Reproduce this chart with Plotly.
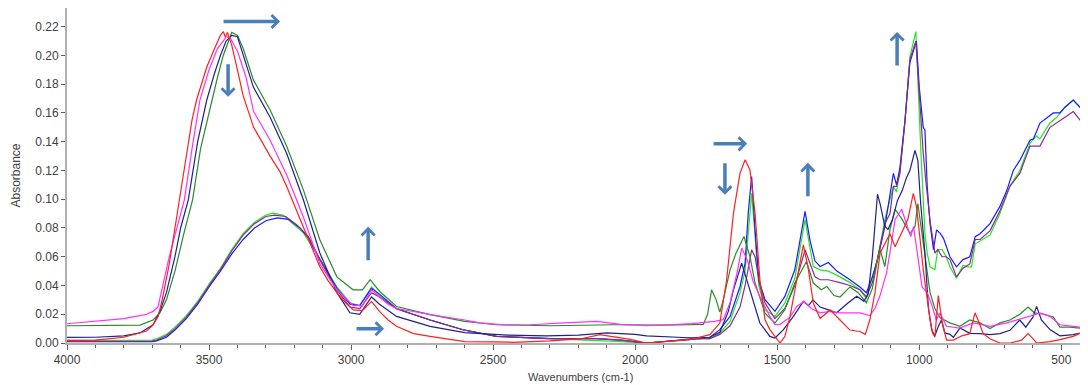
import plotly.graph_objects as go

# ---------------- data ----------------
red_wn = [4000, 3900, 3800, 3750, 3720, 3700, 3680, 3665, 3640, 3620, 3605, 3580, 3560, 3544, 3520, 3508, 3480, 3460, 3450, 3443, 3435, 3420, 3400, 3380, 3343, 3300, 3285, 3250, 3227, 3200, 3168, 3140, 3110, 3080, 3050, 3020, 2992, 2960, 2928, 2900, 2870, 2840, 2780, 2722, 2650, 2600, 2500, 2430, 2300, 2194, 2124, 2060, 2018, 1960, 1900, 1807, 1737, 1702, 1678, 1654, 1631, 1613, 1596, 1578, 1561, 1543, 1526, 1502, 1490, 1473, 1455, 1431, 1408, 1390, 1373, 1349, 1314, 1279, 1244, 1209, 1190, 1174, 1156, 1138, 1103, 1085, 1068, 1040, 1021, 1010, 998, 986, 975, 962, 953, 945, 933, 920, 904, 880, 850, 822, 804, 793, 775, 751, 716, 680, 640, 617, 600, 587, 540, 505, 458, 406]
red_abs = [0.0018, 0.002, 0.004, 0.007, 0.0083, 0.012, 0.018, 0.030, 0.055, 0.080, 0.0996, 0.130, 0.155, 0.169, 0.185, 0.192, 0.205, 0.214, 0.2166, 0.213, 0.216, 0.207, 0.190, 0.172, 0.150, 0.135, 0.130, 0.119, 0.109, 0.096, 0.081, 0.067, 0.053, 0.043, 0.035, 0.028, 0.023, 0.0225, 0.029, 0.022, 0.016, 0.0116, 0.0065, 0.0046, 0.0025, 0.001, 0.0008, 0.0005, 0.0015, 0.0028, 0.0058, 0.004, 0.0025, 0.0, 0.001, 0.0023, 0.0058, 0.0139, 0.044, 0.0903, 0.118, 0.1274, 0.1204, 0.0903, 0.044, 0.0162, 0.0093, 0.0035, 0.0, 0.0046, 0.0185, 0.044, 0.0683, 0.0509, 0.0278, 0.017, 0.023, 0.016, 0.009, 0.008, 0.006, 0.016, 0.035, 0.0625, 0.076, 0.067, 0.074, 0.086, 0.104, 0.095, 0.074, 0.051, 0.035, 0.016, 0.007, 0.004, 0.033, 0.015, 0.002, 0.002, 0.005, 0.0065, 0.021, 0.016, 0.0065, 0.003, 0.0, 0.0, 0.002, 0.0065, 0.003, 0.0, 0.001, 0.0023, 0.0046, 0.0093]

magenta_wn = [4000, 3900, 3800, 3743, 3720, 3697, 3680, 3665, 3640, 3620, 3587, 3560, 3532, 3500, 3470, 3450, 3440, 3425, 3400, 3370, 3343, 3285, 3227, 3168, 3110, 3050, 2992, 2960, 2928, 2900, 2870, 2840, 2786, 2700, 2600, 2546, 2450, 2370, 2250, 2135, 2050, 1960, 1850, 1800, 1720, 1690, 1666, 1640, 1625, 1605, 1585, 1561, 1526, 1508, 1490, 1455, 1431, 1405, 1380, 1349, 1314, 1279, 1244, 1209, 1174, 1156, 1138, 1115, 1100, 1085, 1062, 1045, 1030, 1020, 1005, 990, 972, 955, 940, 927, 904, 857, 810, 751, 692, 634, 575, 540, 505, 458, 406]
magenta_abs = [0.0134, 0.015, 0.017, 0.019, 0.020, 0.022, 0.025, 0.038, 0.060, 0.075, 0.0996, 0.135, 0.169, 0.190, 0.205, 0.210, 0.213, 0.212, 0.203, 0.185, 0.161, 0.141, 0.117, 0.0876, 0.055, 0.037, 0.026, 0.026, 0.037, 0.032, 0.027, 0.024, 0.022, 0.019, 0.016, 0.014, 0.0125, 0.0127, 0.014, 0.015, 0.013, 0.012, 0.013, 0.0135, 0.015, 0.0162, 0.028, 0.050, 0.066, 0.0575, 0.043, 0.0324, 0.0185, 0.0127, 0.013, 0.018, 0.0254, 0.029, 0.024, 0.021, 0.022, 0.021, 0.021, 0.021, 0.019, 0.024, 0.033, 0.049, 0.067, 0.086, 0.093, 0.083, 0.074, 0.081, 0.058, 0.039, 0.035, 0.026, 0.016, 0.0208, 0.0116, 0.0104, 0.014, 0.0116, 0.014, 0.0174, 0.0208, 0.0185, 0.0127, 0.0116, 0.0104]

dkgreen_wn = [4000, 3900, 3800, 3743, 3697, 3673, 3650, 3620, 3590, 3558, 3530, 3491, 3470, 3450, 3430, 3420, 3400, 3380, 3344, 3285, 3227, 3168, 3110, 3050, 2993, 2960, 2933, 2900, 2840, 2722, 2600, 2488, 2300, 2078, 1900, 1784, 1760, 1745, 1731, 1715, 1702, 1690, 1666, 1645, 1617, 1596, 1578, 1543, 1508, 1473, 1438, 1397, 1373, 1345, 1325, 1300, 1279, 1244, 1215, 1186, 1165, 1147, 1138, 1121, 1103, 1085, 1068, 1060, 1033, 1015, 1005, 990, 975, 962, 945, 927, 892, 857, 822, 786, 751, 716, 681, 646, 617, 595, 560, 528, 505, 470, 434, 406]
dkgreen_abs = [0.012, 0.012, 0.0125, 0.0125, 0.016, 0.021, 0.030, 0.050, 0.075, 0.0996, 0.135, 0.169, 0.185, 0.200, 0.211, 0.216, 0.214, 0.205, 0.183, 0.162, 0.137, 0.1065, 0.0718, 0.046, 0.037, 0.037, 0.044, 0.036, 0.0254, 0.0197, 0.015, 0.0127, 0.012, 0.0127, 0.0125, 0.0127, 0.013, 0.020, 0.037, 0.030, 0.0215, 0.030, 0.0509, 0.0625, 0.0741, 0.0602, 0.0417, 0.0208, 0.0139, 0.0231, 0.0417, 0.0567, 0.0417, 0.037, 0.0393, 0.033, 0.032, 0.039, 0.035, 0.028, 0.038, 0.058, 0.065, 0.0532, 0.079, 0.093, 0.088, 0.086, 0.076, 0.081, 0.097, 0.074, 0.051, 0.035, 0.024, 0.0175, 0.014, 0.0116, 0.016, 0.014, 0.010, 0.014, 0.016, 0.020, 0.025, 0.021, 0.020, 0.018, 0.011, 0.011, 0.0104, 0.0093]

navy_wn = [4000, 3900, 3800, 3743, 3697, 3673, 3650, 3620, 3600, 3573, 3540, 3508, 3480, 3460, 3440, 3420, 3400, 3380, 3344, 3285, 3227, 3168, 3110, 3050, 3004, 2970, 2928, 2900, 2840, 2722, 2600, 2450, 2312, 2200, 2100, 2000, 1960, 1850, 1807, 1737, 1702, 1672, 1654, 1625, 1596, 1561, 1526, 1508, 1478, 1443, 1408, 1390, 1374, 1349, 1320, 1291, 1250, 1220, 1195, 1180, 1165, 1156, 1147, 1138, 1121, 1110, 1094, 1077, 1060, 1045, 1033, 1015, 1005, 995, 980, 968, 956, 945, 934, 922, 910, 892, 880, 857, 822, 786, 751, 716, 681, 646, 625, 600, 587, 570, 540, 505, 458, 406]
navy_abs = [0.0039, 0.004, 0.005, 0.007, 0.0127, 0.022, 0.035, 0.060, 0.080, 0.0996, 0.140, 0.169, 0.188, 0.200, 0.210, 0.214, 0.213, 0.200, 0.178, 0.157, 0.132, 0.0996, 0.0626, 0.035, 0.021, 0.020, 0.032, 0.027, 0.0185, 0.0116, 0.0072, 0.0055, 0.0049, 0.0055, 0.007, 0.006, 0.0049, 0.004, 0.0035, 0.004, 0.0075, 0.022, 0.037, 0.0556, 0.037, 0.0139, 0.0046, 0.0035, 0.0093, 0.0185, 0.029, 0.026, 0.030, 0.025, 0.023, 0.021, 0.028, 0.0325, 0.029, 0.034, 0.060, 0.081, 0.1035, 0.097, 0.081, 0.079, 0.086, 0.099, 0.106, 0.115, 0.120, 0.134, 0.127, 0.097, 0.0625, 0.025, 0.009, 0.005, 0.011, 0.016, 0.007, 0.006, 0.004, 0.0104, 0.0067, 0.0065, 0.0058, 0.0065, 0.0088, 0.016, 0.011, 0.018, 0.0255, 0.016, 0.0093, 0.005, 0.0058, 0.0081]

blue_wn = [4000, 3800, 3700, 3684, 3650, 3620, 3580, 3540, 3500, 3460, 3420, 3380, 3340, 3300, 3260, 3220, 3180, 3150, 3110, 3050, 3004, 2970, 2928, 2900, 2840, 2722, 2606, 2488, 2300, 2136, 2050, 1960, 1850, 1784, 1740, 1702, 1666, 1631, 1613, 1602, 1590, 1578, 1565, 1543, 1508, 1473, 1438, 1402, 1385, 1367, 1349, 1320, 1290, 1244, 1209, 1186, 1165, 1147, 1121, 1091, 1080, 1068, 1050, 1033, 1010, 1000, 986, 980, 972, 962, 950, 939, 927, 915, 892, 869, 846, 822, 803, 786, 751, 716, 692, 669, 646, 610, 598, 575, 528, 505, 487, 458, 434, 416, 406]
blue_abs = [0.0009, 0.0009, 0.001, 0.0015, 0.004, 0.009, 0.017, 0.027, 0.039, 0.050, 0.062, 0.072, 0.080, 0.085, 0.087, 0.086, 0.080, 0.073, 0.058, 0.038, 0.027, 0.026, 0.038, 0.034, 0.0238, 0.016, 0.0092, 0.0046, 0.003, 0.003, 0.002, 0.0, 0.002, 0.003, 0.0035, 0.0093, 0.0185, 0.0393, 0.0556, 0.0903, 0.1158, 0.0787, 0.044, 0.0301, 0.022, 0.0324, 0.0509, 0.0915, 0.0718, 0.057, 0.0532, 0.056, 0.050, 0.044, 0.039, 0.035, 0.046, 0.058, 0.081, 0.118, 0.110, 0.122, 0.155, 0.195, 0.210, 0.178, 0.150, 0.148, 0.109, 0.083, 0.065, 0.0787, 0.0764, 0.073, 0.060, 0.053, 0.058, 0.060, 0.074, 0.076, 0.083, 0.095, 0.106, 0.120, 0.127, 0.141, 0.142, 0.153, 0.160, 0.160, 0.164, 0.169, 0.164, 0.160, 0.162]

lime_wn = [4000, 3800, 3700, 3684, 3650, 3620, 3580, 3540, 3500, 3460, 3420, 3380, 3340, 3300, 3275, 3240, 3200, 3168, 3108, 3050, 3004, 2969, 2928, 2900, 2840, 2722, 2606, 2488, 2300, 2136, 2050, 1960, 1850, 1784, 1737, 1702, 1666, 1631, 1613, 1600, 1590, 1578, 1565, 1543, 1508, 1473, 1438, 1402, 1373, 1349, 1320, 1279, 1244, 1209, 1186, 1165, 1147, 1121, 1091, 1080, 1068, 1050, 1033, 1012, 1000, 994, 980, 972, 962, 945, 935, 920, 905, 892, 869, 846, 830, 816, 803, 786, 751, 716, 681, 646, 610, 587, 575, 540, 516, 487, 458, 434, 406]
lime_abs = [0.0018, 0.0018, 0.002, 0.003, 0.006, 0.011, 0.019, 0.029, 0.041, 0.052, 0.065, 0.076, 0.084, 0.089, 0.0903, 0.089, 0.082, 0.0766, 0.058, 0.039, 0.028, 0.026, 0.039, 0.033, 0.024, 0.016, 0.0092, 0.0046, 0.003, 0.002, 0.001, 0.0, 0.002, 0.003, 0.003, 0.007, 0.015, 0.035, 0.050, 0.080, 0.1042, 0.0741, 0.040, 0.0231, 0.0185, 0.0278, 0.045, 0.0857, 0.0532, 0.0509, 0.050, 0.046, 0.042, 0.037, 0.031, 0.046, 0.058, 0.086, 0.109, 0.105, 0.120, 0.155, 0.199, 0.2166, 0.155, 0.132, 0.076, 0.0625, 0.053, 0.051, 0.065, 0.065, 0.060, 0.053, 0.045, 0.054, 0.053, 0.053, 0.069, 0.071, 0.075, 0.090, 0.109, 0.120, 0.139, 0.144, 0.142, 0.153, 0.157, 0.164, 0.169, 0.164, 0.162]

purple_wn = [4000, 3800, 3700, 3684, 3650, 3620, 3580, 3540, 3500, 3460, 3420, 3380, 3340, 3300, 3270, 3230, 3190, 3150, 3110, 3050, 3004, 2969, 2928, 2900, 2840, 2722, 2606, 2488, 2300, 2136, 2050, 1960, 1850, 1784, 1737, 1702, 1666, 1631, 1613, 1590, 1578, 1561, 1543, 1508, 1473, 1438, 1402, 1385, 1367, 1349, 1320, 1279, 1244, 1209, 1186, 1165, 1147, 1121, 1103, 1091, 1080, 1068, 1050, 1033, 1012, 998, 986, 975, 962, 945, 935, 920, 905, 892, 869, 846, 822, 803, 786, 751, 716, 681, 646, 610, 575, 540, 516, 487, 458, 434, 406]
purple_abs = [0.0011, 0.0011, 0.0013, 0.002, 0.005, 0.010, 0.018, 0.028, 0.040, 0.051, 0.064, 0.075, 0.083, 0.088, 0.089, 0.088, 0.082, 0.074, 0.058, 0.037, 0.025, 0.024, 0.035, 0.032, 0.0238, 0.016, 0.0092, 0.0046, 0.003, 0.003, 0.002, 0.0, 0.002, 0.003, 0.003, 0.006, 0.012, 0.025, 0.040, 0.0648, 0.060, 0.040, 0.028, 0.017, 0.024, 0.040, 0.0648, 0.055, 0.046, 0.044, 0.044, 0.042, 0.040, 0.037, 0.032, 0.042, 0.058, 0.083, 0.090, 0.109, 0.109, 0.118, 0.155, 0.197, 0.210, 0.167, 0.132, 0.109, 0.085, 0.0625, 0.065, 0.060, 0.060, 0.058, 0.046, 0.052, 0.055, 0.072, 0.072, 0.078, 0.092, 0.109, 0.118, 0.137, 0.137, 0.150, 0.153, 0.157, 0.161, 0.155, 0.151]

# arrows: (tip wavenumber, tip absorbance, tail dx px, tail dy px)
arrow_wn = [3250, 3433, 2940, 2884, 1606, 1684, 1392, 1078]
arrow_abs = [0.2236, 0.1712, 0.0808, 0.0099, 0.1385, 0.1031, 0.1253, 0.2163]
arrow_ax = [-58, 0, 0, -29, -35, 0, 0, 0]
arrow_ay = [0, -34, 35, 0, 0, -33, 35, 35]

y_ticks = [0.00, 0.02, 0.04, 0.06, 0.08, 0.10, 0.12, 0.14, 0.16, 0.18, 0.20, 0.22]
x_ticks = [4000, 3500, 3000, 2500, 2000, 1500, 1000, 500]

series = [
    ("lime", lime_wn, lime_abs, "#22e622"),
    ("blue", blue_wn, blue_abs, "#1a1aff"),
    ("purple", purple_wn, purple_abs, "#8a2a8a"),
    ("dkgreen", dkgreen_wn, dkgreen_abs, "#2a8a2a"),
    ("navy", navy_wn, navy_abs, "#20208a"),
    ("magenta", magenta_wn, magenta_abs, "#ff30ff"),
    ("red", red_wn, red_abs, "#ff2020"),
]

fig = go.Figure()
for name, wn, ab, col in series:
    fig.add_trace(go.Scatter(x=wn, y=ab, mode="lines", name=name,
                             line=dict(color=col, width=1.2), showlegend=False))

arrow_col = "#4a7ebb"
for xw, ya, axp, ayp in zip(arrow_wn, arrow_abs, arrow_ax, arrow_ay):
    fig.add_annotation(x=xw, y=ya, xref="x", yref="y", ax=axp, ay=ayp,
                       text="", showarrow=True, arrowhead=4, arrowsize=0.72,
                       arrowwidth=3.5, arrowcolor=arrow_col, standoff=0)

font_col = "#404040"
fig.add_annotation(text="Absorbance", xref="paper", yref="paper", x=0, y=0.5,
                   xshift=-61, textangle=-90, showarrow=False,
                   font=dict(family="Liberation Sans, Arial", size=12, color=font_col))
fig.add_annotation(text="Wavenumbers (cm-1)", xref="paper", yref="paper", x=0.503, y=0,
                   yshift=-34, yanchor="middle", showarrow=False,
                   font=dict(family="Liberation Sans, Arial", size=11, color=font_col))

# page body has an 8px margin: figure is sized so the plot area lands where the reference has it
fig.update_layout(
    width=1080, height=377,
    margin=dict(l=59, r=0, t=0, b=42),
    paper_bgcolor="white", plot_bgcolor="white",
    font=dict(family="Liberation Sans, Arial", size=12, color=font_col),
    xaxis=dict(range=[4000, 406], tickvals=x_ticks, ticktext=[str(v) for v in x_ticks],
               showgrid=False, zeroline=False, showline=True, linecolor="#b0b0b0",
               linewidth=2, ticks="outside", ticklen=5, tickcolor="#606060",
               minor=dict(dtick=100, ticks="outside", ticklen=3, tickcolor="#606060"),
               tickfont=dict(size=12, color=font_col)),
    yaxis=dict(range=[0, 0.2330], tickvals=y_ticks, ticktext=["%.2f" % v for v in y_ticks],
               showgrid=False, zeroline=False, showline=True, linecolor="#b0b0b0",
               linewidth=2, ticks="outside", ticklen=4, tickcolor="#606060",
               tickfont=dict(size=12, color=font_col)),
)

fig.write_html("out.html")
